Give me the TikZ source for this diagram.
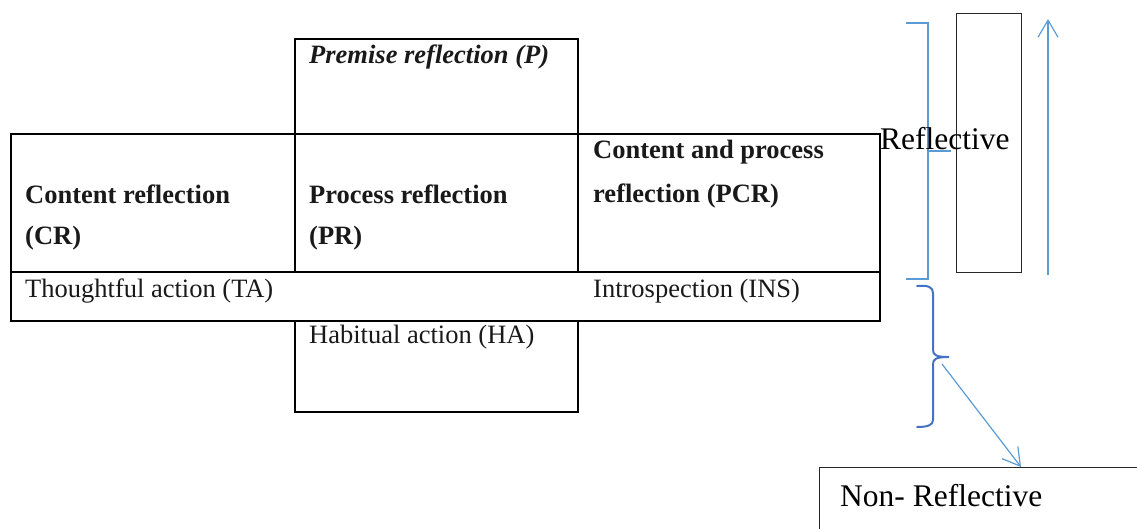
\documentclass[tikz,border=0pt]{standalone}
\usepackage{fontspec}
\setmainfont{Liberation Serif}
\usetikzlibrary{arrows.meta,calc}
\definecolor{lblue}{RGB}{91,155,213}
\definecolor{dblue}{RGB}{68,114,196}
\tikzset{
  cell/.style={draw=black, line width=1.8pt, inner sep=0pt, anchor=north west},
  thinbox/.style={draw=black!85, line width=1.2pt, inner sep=0pt, anchor=north west},
  txt/.style={inner sep=0pt, anchor=base west, text=black!90, font=\fontsize{26.5}{30}\selectfont},
  bigtxt/.style={inner sep=0pt, anchor=base west, text=black, font=\fontsize{31.5}{36}\selectfont},
  bluearrow/.style={draw=lblue, line width=1.2pt, -{Straight Barb[length=17pt,width=20pt,line width=1.2pt]}},
  bracket/.style={draw=lblue, line width=1.3pt},
  curly/.style={draw=dblue, line width=2pt, line cap=round}
}
\begin{document}
\begin{tikzpicture}[x=1pt,y=-1pt]
\useasboundingbox (0,0) rectangle (1137,528);
% table cells
\node[cell, minimum width=283pt, minimum height=95pt] (p) at (294,38) {};
\node[cell, minimum width=284pt, minimum height=138pt] (cr) at (10,133) {};
\node[cell, minimum width=283pt, minimum height=138pt] (pr) at (294,133) {};
\node[cell, minimum width=302pt, minimum height=138pt] (pcr) at (577,133) {};
\node[cell, minimum width=869pt, minimum height=49pt] (act) at (10,271) {};
\node[cell, minimum width=283pt, minimum height=91pt] (ha) at (294,320) {};
% texts in cells
\node[txt, font=\fontsize{26.5}{30}\selectfont\bfseries\itshape] (pt) at (309,63) {Premise reflection (P)};
\node[txt, font=\fontsize{26.5}{30}\selectfont\bfseries] (crt1) at (25,203) {Content reflection};
\node[txt, font=\fontsize{26.5}{30}\selectfont\bfseries] (crt2) at (25,244) {(CR)};
\node[txt, font=\fontsize{26.5}{30}\selectfont\bfseries] (prt1) at (309,203) {Process reflection};
\node[txt, font=\fontsize{26.5}{30}\selectfont\bfseries] (prt2) at (309,244) {(PR)};
\node[txt, font=\fontsize{26.5}{30}\selectfont\bfseries] (pcrt1) at (593,158) {Content and process};
\node[txt, font=\fontsize{26.5}{30}\selectfont\bfseries] (pcrt2) at (593,202) {reflection (PCR)};
\node[txt] (tat) at (25,297) {Thoughtful action (TA)};
\node[txt] (inst) at (593,297) {Introspection (INS)};
\node[txt] (hat) at (309,343) {Habitual action (HA)};
% right side
\node[thinbox, minimum width=65pt, minimum height=259pt] (col) at (956,13) {};
\draw[bracket] (906,23) -- (928,23) -- (928,279) -- (906,279);
\draw[bracket] (928,151) -- (951,151);
\coordinate (upS) at (1048,275);
\coordinate (upE) at (1048,19);
\draw[bluearrow] (upS) -- (upE);
\draw[curly] (917,286) .. controls (928,285) and (933,287) .. (933,293)
  -- (933,350) .. controls (933,355) and (936,357) .. (949,357)
  .. controls (936,357) and (933,359) .. (933,364)
  -- (933,420) .. controls (933,425) and (928,427) .. (917,427);
\coordinate (bt) at (942,364);
\node[thinbox, minimum width=400pt, minimum height=120pt] (nr) at (819,467) {};
\draw[bluearrow] (bt) -- ($(nr.north west)+(202,0)$);
\node[bigtxt] (nrt) at (840,506) {Non- Reflective};
\node[bigtxt] (reft) at (880,149) {Reflective};
\end{tikzpicture}
\end{document}
